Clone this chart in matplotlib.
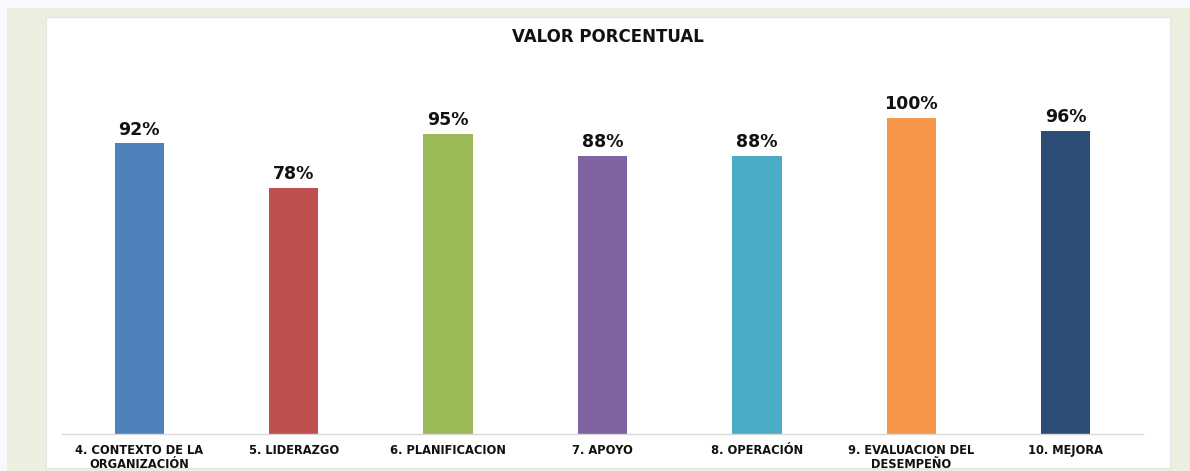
import matplotlib
matplotlib.use("Agg")
import matplotlib.pyplot as plt
from matplotlib.patches import Rectangle

# Datos
categorias = ["4. CONTEXTO DE LA\nORGANIZACIÓN", "5. LIDERAZGO", "6. PLANIFICACION",
              "7. APOYO", "8. OPERACIÓN", "9. EVALUACION DEL\nDESEMPEÑO", "10. MEJORA"]
valores = [0.92, 0.78, 0.95, 0.88, 0.88, 1.00, 0.96]
colores = ["#4F81BD", "#C0504D", "#9BBB59", "#8064A2", "#4BACC6", "#F79646", "#2C4D75"]

W, H = 1190, 471
fig = plt.figure(figsize=(W / 100, H / 100), dpi=100)
fig.patch.set_facecolor("#F7F9FB")

# Marco beige y panel blanco (detrás de los ejes)
fig.patches.append(Rectangle((7 / W, 0), 1 - 7 / W, 1 - 8 / H, transform=fig.transFigure,
                             facecolor="#ECEEE0", edgecolor="none", zorder=-2))
fig.patches.append(Rectangle((46 / W, 3 / H), (1170 - 46) / W, (454 - 3) / H,
                             transform=fig.transFigure, facecolor="white",
                             edgecolor="#E4E4E4", linewidth=0.8, zorder=-1))

# Ejes: base en y=434 px, 100% en y=118 px
ax_left, ax_right = 62, 1143
ax_bottom, ax_top = 434, 80
ax = fig.add_axes([ax_left / W, (H - ax_bottom) / H, (ax_right - ax_left) / W, (ax_bottom - ax_top) / H])
ax.set_facecolor("none")
escala = (ax_bottom - 118) / 1.0
ax.set_ylim(0, (ax_bottom - ax_top) / escala)
ax.set_xlim(-0.5, len(categorias) - 0.5)

x = range(len(categorias))
bars = ax.bar(x, valores, width=0.32, color=colores, edgecolor="none")

for bar, v in zip(bars, valores):
    ax.text(bar.get_x() + bar.get_width() / 2, v + 0.015, f"{v:.0%}",
            ha="center", va="bottom", fontsize=12.5, fontweight="bold", color="#111111")

ax.set_xticks(list(x))
ax.set_xticklabels(categorias, fontsize=8.3, fontweight="bold", color="#111111", linespacing=1.15)
ax.tick_params(axis="x", length=0, pad=7)
ax.set_yticks([])
for s in ["top", "right", "left"]:
    ax.spines[s].set_visible(False)
ax.spines["bottom"].set_color("#D9D9D9")
ax.spines["bottom"].set_linewidth(1)

fig.text(608 / W, 1 - 37 / H, "VALOR PORCENTUAL", ha="center", va="center",
         fontsize=12, fontweight="bold", color="#111111")

fig.savefig("out.png", dpi=100, facecolor=fig.get_facecolor())
